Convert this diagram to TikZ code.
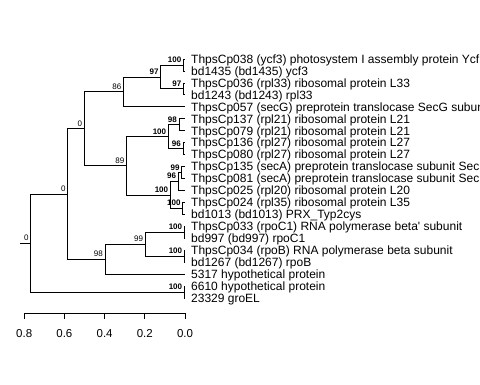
\documentclass[tikz,border=0pt]{standalone}
\usepackage{fontspec}
\setmainfont{Liberation Sans}[Ligatures=TeXOff]
\begin{document}
\begin{tikzpicture}[x=1bp,y=-1bp,
  edge/.style={line width=0.8bp},
  leaflab/.style={anchor=base west, inner sep=0pt, font=\fontsize{12bp}{12bp}\selectfont},
  blab/.style={anchor=base east, inner sep=0pt, font=\fontsize{8bp}{8bp}\selectfont\bfseries},
  nlab/.style={anchor=base east, inner sep=0pt, font=\fontsize{8bp}{8bp}\selectfont},
  ticklab/.style={anchor=base, inner sep=0pt, font=\fontsize{11.5bp}{11.5bp}\selectfont}]
\useasboundingbox (0,0) rectangle (480,384);
\clip (0,0) rectangle (480,384);
% leaf tips
\coordinate (l1) at (185,59);
\coordinate (l2) at (185,70.95);
\coordinate (l3) at (185,82.9);
\coordinate (l4) at (185,94.85);
\coordinate (l5) at (185,106.8);
\coordinate (l6) at (185,118.75);
\coordinate (l7) at (185,130.7);
\coordinate (l8) at (185,142.65);
\coordinate (l9) at (185,154.6);
\coordinate (l10) at (185,166.55);
\coordinate (l11) at (185,178.5);
\coordinate (l12) at (185,190.45);
\coordinate (l13) at (185,202.4);
\coordinate (l14) at (185,214.35);
\coordinate (l15) at (185,226.3);
\coordinate (l16) at (185,238.25);
\coordinate (l17) at (185,250.2);
\coordinate (l18) at (185,262.15);
\coordinate (l19) at (185,274.1);
\coordinate (l20) at (185,286.05);
\coordinate (l21) at (185,298);
% internal nodes
\coordinate (A) at (183.5,64.98);
\coordinate (B) at (183.5,88.88);
\coordinate (C) at (160.7,76.93);
\coordinate (D) at (123.5,91.86);
\coordinate (E) at (179,124.73);
\coordinate (F) at (183,148.63);
\coordinate (G) at (168.3,136.68);
\coordinate (H) at (181.7,172.53);
\coordinate (I) at (178.3,181.49);
\coordinate (J) at (182.7,208.38);
\coordinate (K) at (170.3,194.93);
\coordinate (L) at (126.5,165.8);
\coordinate (M) at (84.3,128.83);
\coordinate (N) at (184.3,232.28);
\coordinate (O) at (184.3,256.18);
\coordinate (P) at (145.3,244.23);
\coordinate (Q) at (105,259.17);
\coordinate (R) at (67.7,194);
\coordinate (S) at (184.3,292.03);
\coordinate (T) at (30.7,243);
\coordinate (T0) at (20,243);
% edges
\draw[edge] (T0) -- (T);
\draw[edge] (T) |- (R);
\draw[edge] (T) |- (S);
\draw[edge] (R) |- (M);
\draw[edge] (R) |- (Q);
\draw[edge] (M) |- (D);
\draw[edge] (M) |- (L);
\draw[edge] (D) |- (C);
\draw[edge] (D) |- (l5);
\draw[edge] (C) |- (A);
\draw[edge] (C) |- (B);
\draw[edge] (A) |- (l1);
\draw[edge] (A) |- (l2);
\draw[edge] (B) |- (l3);
\draw[edge] (B) |- (l4);
\draw[edge] (L) |- (G);
\draw[edge] (L) |- (K);
\draw[edge] (G) |- (E);
\draw[edge] (G) |- (F);
\draw[edge] (E) |- (l6);
\draw[edge] (E) |- (l7);
\draw[edge] (F) |- (l8);
\draw[edge] (F) |- (l9);
\draw[edge] (K) |- (I);
\draw[edge] (K) |- (J);
\draw[edge] (I) |- (H);
\draw[edge] (I) |- (l12);
\draw[edge] (H) |- (l10);
\draw[edge] (H) |- (l11);
\draw[edge] (J) |- (l13);
\draw[edge] (J) |- (l14);
\draw[edge] (Q) |- (P);
\draw[edge] (Q) |- (l19);
\draw[edge] (P) |- (N);
\draw[edge] (P) |- (O);
\draw[edge] (N) |- (l15);
\draw[edge] (N) |- (l16);
\draw[edge] (O) |- (l17);
\draw[edge] (O) |- (l18);
\draw[edge] (S) |- (l20);
\draw[edge] (S) |- (l21);
% node labels
\node[blab] (bA) at ([shift={(-2,-2.5)}]A) {100};
\node[blab] (bB) at ([shift={(-2,-2.5)}]B) {97};
\node[blab] (bC) at ([shift={(-2,-2.5)}]C) {97};
\node[nlab] (bD) at ([shift={(-2,-2.5)}]D) {86};
\node[blab] (bE) at ([shift={(-2,-2.5)}]E) {98};
\node[blab] (bF) at ([shift={(-2,-2.5)}]F) {96};
\node[blab] (bG) at ([shift={(-2,-2.5)}]G) {100};
\node[blab] (bH) at ([shift={(-2,-2.5)}]H) {99};
\node[blab] (bI) at ([shift={(-2,-2.5)}]I) {96};
\node[blab] (bJ) at ([shift={(-2,-2.5)}]J) {100};
\node[blab] (bK) at ([shift={(-2,-2.5)}]K) {100};
\node[nlab] (bL) at ([shift={(-2,-2.5)}]L) {89};
\node[nlab] (bM) at ([shift={(-2,-2.5)}]M) {0};
\node[blab] (bN) at ([shift={(-2,-2.5)}]N) {100};
\node[blab] (bO) at ([shift={(-2,-2.5)}]O) {100};
\node[nlab] (bP) at ([shift={(-2,-2.5)}]P) {99};
\node[nlab] (bQ) at ([shift={(-2,-2.5)}]Q) {98};
\node[nlab] (bR) at ([shift={(-2,-2.5)}]R) {0};
\node[blab] (bS) at ([shift={(-2,-2.5)}]S) {100};
\node[nlab] (bT) at ([shift={(-2,-2.5)}]T) {0};
% leaf labels
\node[leaflab] (t1) at (191,63.3) {ThpsCp038 (ycf3) photosystem I assembly protein Ycf};
\node[leaflab] (t2) at (191,75.25) {bd1435 (bd1435) ycf3};
\node[leaflab] (t3) at (191,87.2) {ThpsCp036 (rpl33) ribosomal protein L33};
\node[leaflab] (t4) at (191,99.15) {bd1243 (bd1243) rpl33};
\node[leaflab] (t5) at (191,111.1) {ThpsCp057 (secG) preprotein translocase SecG subun};
\node[leaflab] (t6) at (191,123.05) {ThpsCp137 (rpl21) ribosomal protein L21};
\node[leaflab] (t7) at (191,135) {ThpsCp079 (rpl21) ribosomal protein L21};
\node[leaflab] (t8) at (191,146.95) {ThpsCp136 (rpl27) ribosomal protein L27};
\node[leaflab] (t9) at (191,158.9) {ThpsCp080 (rpl27) ribosomal protein L27};
\node[leaflab] (t10) at (191,170.85) {ThpsCp135 (secA) preprotein translocase subunit Sec};
\node[leaflab] (t11) at (191,182.8) {ThpsCp081 (secA) preprotein translocase subunit Sec};
\node[leaflab] (t12) at (191,194.75) {ThpsCp025 (rpl20) ribosomal protein L20};
\node[leaflab] (t13) at (191,206.7) {ThpsCp024 (rpl35) ribosomal protein L35};
\node[leaflab] (t14) at (191,218.65) {bd1013 (bd1013) PRX\_Typ2cys};
\node[leaflab] (t15) at (191,230.6) {ThpsCp033 (rpoC1) RNA polymerase beta' subunit};
\node[leaflab] (t16) at (191,242.55) {bd997 (bd997) rpoC1};
\node[leaflab] (t17) at (191,254.5) {ThpsCp034 (rpoB) RNA polymerase beta subunit};
\node[leaflab] (t18) at (191,266.45) {bd1267 (bd1267) rpoB};
\node[leaflab] (t19) at (191,278.4) {5317 hypothetical protein};
\node[leaflab] (t20) at (191,290.35) {6610 hypothetical protein};
\node[leaflab] (t21) at (191,302.3) {23329 groEL};
% axis
\coordinate (a8) at (24.2,313);
\coordinate (a6) at (64.4,313);
\coordinate (a4) at (104.6,313);
\coordinate (a2) at (144.8,313);
\coordinate (a0) at (185,313);
\draw[edge] (a8) -- (a0);
\foreach \c/\v in {a8/0.8,a6/0.6,a4/0.4,a2/0.2,a0/0.0}{
  \draw[edge] (\c) -- ++(0,6);
  \node[ticklab] (lab\c) at ([yshift=-24.5bp]\c) {\v};
}
\end{tikzpicture}
\end{document}
